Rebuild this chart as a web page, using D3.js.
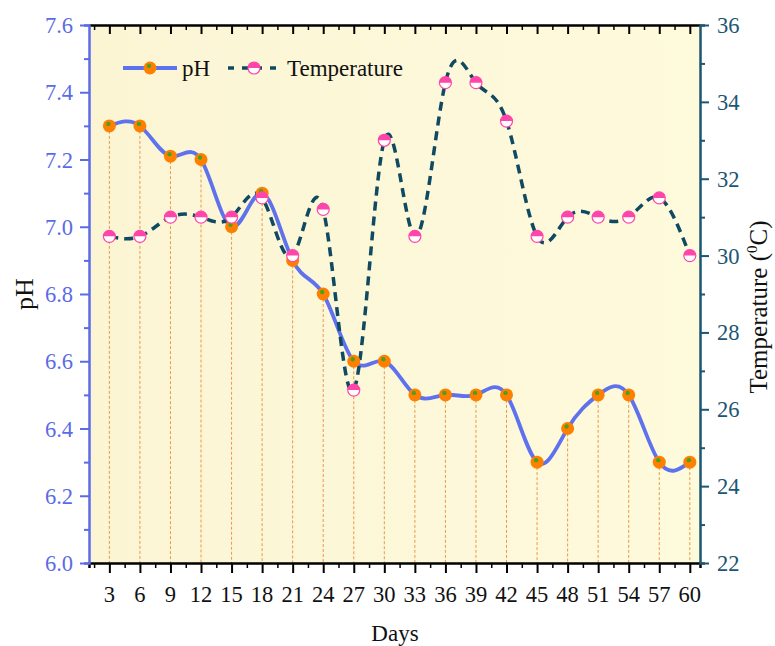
<!DOCTYPE html>
<html><head><meta charset="utf-8">
<script src="https://cdn.jsdelivr.net/npm/d3@7"></script>
<style>body{margin:0;background:#fff}svg{display:block}text{font-family:"Liberation Serif","Times New Roman",serif}</style>
</head><body>
<svg id="c" width="775" height="646"></svg>
<script>
const days = [3,6,9,12,15,18,21,24,27,30,33,36,39,42,45,48,51,54,57,60];
const phValues = [7.3,7.3,7.21,7.2,7.0,7.1,6.9,6.8,6.6,6.6,6.5,6.5,6.5,6.5,6.3,6.4,6.5,6.5,6.3,6.3];
const tempValues = [30.5,30.5,31.0,31.0,31.0,31.5,30.0,31.2,26.5,33.0,30.5,34.5,34.5,33.5,30.5,31.0,31.0,31.0,31.5,30.0];
const phTicks = [6.0,6.2,6.4,6.6,6.8,7.0,7.2,7.4,7.6];
const tempTicks = [22,24,26,28,30,32,34,36];
const dayTicks = days;

(function(){
const svg = d3.select("#c").attr("font-family","'Liberation Serif','Times New Roman',serif");
const SERIF = "'Liberation Serif','Times New Roman',serif";
const L = 89, R = 700, T = 25, B = 563;
const x = d3.scaleLinear().domain([1, 61]).range([L, R]);
const yL = d3.scaleLinear().domain([6.0, 7.6]).range([B, T]);
const yR = d3.scaleLinear().domain([22, 36]).range([B, T]);

const blue = "#5b6be8", teal = "#1b5673", phLine = "#5f72ee", tLine = "#0f4a62";
const FS = 22.5;

const defs = svg.append("defs");
const g = defs.append("linearGradient").attr("id","bg").attr("x1",0).attr("x2",1).attr("y1",0).attr("y2",0);
g.append("stop").attr("offset","0%").attr("stop-color","#fbf5d4");
g.append("stop").attr("offset","100%").attr("stop-color","#fefadc");
svg.append("rect").attr("x",L).attr("y",T).attr("width",R-L).attr("height",B-T).attr("fill","url(#bg)");

svg.append("g").selectAll("line").data(days).join("line")
  .attr("x1",(d)=>x(d)).attr("x2",(d)=>x(d))
  .attr("y1",(d,i)=>yL(phValues[i])).attr("y2",B)
  .attr("stroke","#e89a4c").attr("stroke-width",1).attr("stroke-dasharray","3,2");

const axB = d3.axisBottom(x).tickValues(d3.range(1.5, 61, 1.5)).tickFormat("").tickSize(5);
const gb = svg.append("g").attr("transform",`translate(0,${B})`).call(axB);
gb.selectAll(".tick line").attr("stroke-width",(d)=> (d%3===0)?2:1.5).attr("y2",(d)=> (d%3===0)?10:5);
gb.select(".domain").attr("stroke","#000").attr("stroke-width",2.5);
svg.append("g").selectAll("text").data(dayTicks).join("text").attr("font-family",SERIF)
  .attr("x",(d)=>x(d)).attr("y",B+39).attr("text-anchor","middle").attr("font-size",FS).attr("fill","#111").text((d)=>d);

const axT = d3.axisTop(x).tickValues(d3.range(1.5, 61, 1.5)).tickFormat("").tickSize(0);
const gt = svg.append("g").attr("transform",`translate(0,${T})`).call(axT);
gt.select(".domain").attr("stroke","#000").attr("stroke-width",2.5);
gt.selectAll(".tick line").attr("stroke","#000").attr("stroke-width",(d)=> (d%3===0)?2:1.5).attr("y2",(d)=> (d%3===0)?9:5);

const axL = d3.axisLeft(yL).tickValues(d3.range(6.0, 7.61, 0.1).map(v=>+v.toFixed(1))).tickFormat("").tickSize(5);
const gl = svg.append("g").attr("transform",`translate(${L},0)`).call(axL);
gl.select(".domain").attr("stroke",blue).attr("stroke-width",2.5);
gl.selectAll(".tick line").attr("stroke",blue).attr("stroke-width",2).attr("x2",(d)=> (Math.round(d*10)%2===0)?-9:-5);
svg.append("g").selectAll("text").data(phTicks).join("text").attr("font-family",SERIF)
  .attr("x",L-16).attr("y",(d)=>yL(d)+8).attr("text-anchor","end").attr("font-size",FS).attr("fill",blue).text((d)=>d.toFixed(1));

const axR = d3.axisRight(yR).tickValues(d3.range(22, 36.1, 1)).tickFormat("").tickSize(5);
const gr = svg.append("g").attr("transform",`translate(${R},0)`).call(axR);
gr.select(".domain").attr("stroke",teal).attr("stroke-width",2.5);
gr.selectAll(".tick line").attr("stroke",teal).attr("stroke-width",2).attr("x2",(d)=> (d%2===0)?9:5);
svg.append("g").selectAll("text").data(tempTicks).join("text").attr("font-family",SERIF)
  .attr("x",R+17).attr("y",(d)=>yR(d)+8).attr("text-anchor","start").attr("font-size",FS).attr("fill",teal).text((d)=>d);

svg.append("text").attr("transform","translate(33,294) rotate(-90)").attr("text-anchor","middle").attr("font-size",26).attr("fill","#111").text("pH");
const tt = svg.append("text").attr("transform","translate(767,307) rotate(-90)").attr("text-anchor","middle").attr("font-size",25).attr("fill","#111");
tt.append("tspan").text("Temperature (");
tt.append("tspan").attr("font-size",15).attr("dy",-10).text("0");
tt.append("tspan").attr("dy",10).text("C)");
svg.append("text").attr("x",395).attr("y",641).attr("text-anchor","middle").attr("font-size",23).attr("fill","#111").text("Days");

const phData = days.map((d,i)=>[d, phValues[i]]);
const tData = days.map((d,i)=>[d, tempValues[i]]);
svg.append("path").datum(phData).attr("fill","none").attr("stroke",phLine).attr("stroke-width",3.8)
  .attr("d", d3.line().x(d=>x(d[0])).y(d=>yL(d[1])).curve(d3.curveNatural));
svg.append("path").datum(tData).attr("fill","none").attr("stroke",tLine).attr("stroke-width",3.5).attr("stroke-dasharray","9,6")
  .attr("d", d3.line().x(d=>x(d[0])).y(d=>yR(d[1])).curve(d3.curveNatural));

function phMarker(sel){
  sel.append("circle").attr("r",6.5).attr("fill","#ff8000");
  sel.append("circle").attr("r",2.2).attr("cx",-1).attr("cy",-2).attr("fill","#4aa21c");
}
function tMarker(sel){
  sel.append("circle").attr("r",6).attr("fill","#fff");
  sel.append("path").attr("d",d3.arc()({innerRadius:0,outerRadius:6,startAngle:-Math.PI/2,endAngle:Math.PI/2})).attr("fill","#ff44aa");
  sel.append("circle").attr("r",6).attr("fill","none").attr("stroke","#ff44aa").attr("stroke-width",1.2);
}
svg.append("g").selectAll("g").data(phData).join("g").attr("transform",d=>`translate(${x(d[0])},${yL(d[1])})`).call(phMarker);
svg.append("g").selectAll("g").data(tData).join("g").attr("transform",d=>`translate(${x(d[0])},${yR(d[1])})`).call(tMarker);

const lg = svg.append("g");
lg.append("line").attr("x1",123).attr("x2",177).attr("y1",68).attr("y2",68).attr("stroke",phLine).attr("stroke-width",3.8);
lg.append("g").attr("transform","translate(150,68)").call(phMarker);
lg.append("text").attr("x",182).attr("y",76).attr("font-size",23).attr("fill","#111").text("pH");
lg.append("line").attr("x1",228).attr("x2",282).attr("y1",68).attr("y2",68).attr("stroke",tLine).attr("stroke-width",3.5).attr("stroke-dasharray","6,8");
lg.append("g").attr("transform","translate(254,68)").call(tMarker);
lg.append("text").attr("x",287).attr("y",76).attr("font-size",23).attr("fill","#111").text("Temperature");
})();
</script>
</body></html>
